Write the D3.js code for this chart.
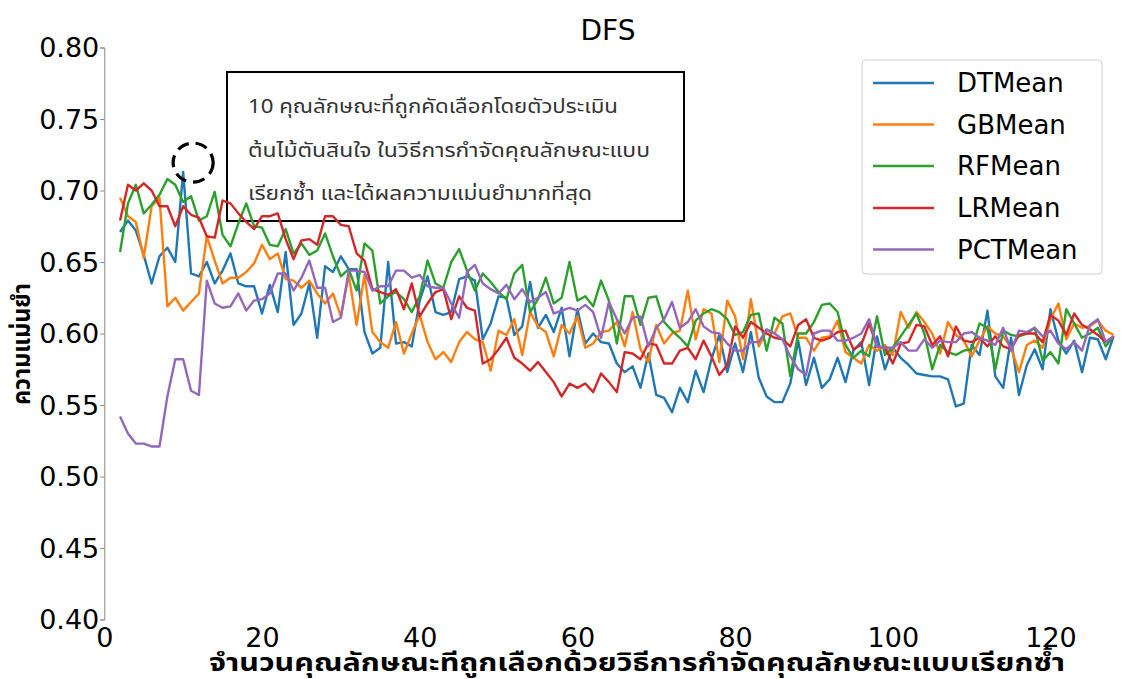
<!DOCTYPE html>
<html><head><meta charset="utf-8">
<script src="https://cdn.jsdelivr.net/npm/d3@7"></script>
<style>
html,body{margin:0;padding:0;background:#fff;}
text{font-family:"DejaVu Sans",sans-serif;}
.thai{font-family:"Noto Sans Thai","Tahoma","Noto Sans","DejaVu Sans",sans-serif;}
</style></head>
<body><svg id="c" width="1124" height="679"></svg>
<script>
const xStart = 2;
const seriesNames = ["DTMean","GBMean","RFMean","LRMean","PCTMean"];
const colors = ["#1f77b4","#ff7f0e","#2ca02c","#d62728","#9467bd"];
const xTicks = [0,20,40,60,80,100,120];
const yTicks = [0.40,0.45,0.50,0.55,0.60,0.65,0.70,0.75,0.80];

const DTMean = [0.671,0.679,0.672,0.655,0.635,0.654,0.660,0.650,0.713,0.642,0.640,0.650,0.635,0.644,0.656,0.635,0.633,0.633,0.614,0.634,0.615,0.657,0.606,0.614,0.635,
0.597,0.647,0.643,0.654,0.645,0.645,0.601,0.586,0.590,0.650,0.593,0.594,0.591,0.623,0.640,0.615,
0.613,0.615,0.638,0.640,0.637,0.596,0.607,0.626,0.625,0.599,0.605,0.636,0.604,0.613,0.601,0.618,0.584,0.617,0.593,0.600,0.594,0.593,0.579,0.573,0.577,0.562,0.586,0.557,0.555,0.545,0.562,0.552,0.574,0.559,0.582,0.599,0.573,0.593,0.573,0.601,0.569,0.556,0.552,
0.552,0.565,0.595,0.564,0.583,0.562,0.568,0.583,0.566,0.588,0.594,0.564,0.598,0.575,0.590,0.583,0.578,0.572,0.571,0.570,0.570,0.568,0.549,0.551,0.592,0.585,0.616,0.570,0.562,0.597,0.557,0.578,0.589,0.575,0.617,0.595,0.586,0.595,0.573,0.597,0.596,0.582,0.598];

const GBMean = [0.695,0.682,0.678,0.653,0.689,0.695,0.619,0.625,0.616,0.622,0.628,0.668,0.651,0.635,0.639,0.639,0.643,0.649,0.662,0.652,0.656,0.638,0.637,0.632,0.637,
0.628,0.621,0.628,0.612,0.641,0.606,0.641,0.601,0.594,0.590,0.608,0.586,0.600,0.613,0.594,0.582,
0.587,0.580,0.594,0.601,0.596,0.594,0.574,0.602,0.599,0.610,0.585,0.615,0.605,0.601,0.584,0.606,0.600,0.612,0.590,0.593,0.601,0.602,0.608,0.591,0.615,0.589,0.580,0.606,0.593,0.600,0.602,0.630,0.596,0.617,0.614,0.580,0.623,0.612,0.582,0.624,0.591,0.602,0.600,
0.612,0.614,0.597,0.597,0.588,0.597,0.598,0.609,0.587,0.583,0.579,0.592,0.588,0.592,0.585,0.615,0.604,0.615,0.608,0.600,0.586,0.608,0.599,0.595,0.584,0.595,0.605,0.600,0.598,0.590,0.573,0.592,0.595,0.590,0.610,0.621,0.596,0.607,0.604,0.605,0.609,0.602,0.599];

const RFMean = [0.657,0.691,0.704,0.684,0.690,0.697,0.708,0.704,0.692,0.696,0.679,0.682,0.699,0.669,0.661,0.677,0.691,0.675,0.674,0.662,0.661,0.673,0.656,0.663,0.655,
0.658,0.670,0.654,0.640,0.645,0.630,0.663,0.658,0.621,0.626,0.629,0.624,0.615,0.626,0.651,0.635,
0.632,0.650,0.659,0.644,0.630,0.642,0.636,0.629,0.624,0.642,0.648,0.615,0.624,0.639,0.621,0.625,0.650,0.623,0.626,0.619,0.637,0.623,0.593,0.626,0.626,0.606,0.625,0.626,0.608,0.602,0.597,0.591,0.609,0.614,0.617,0.615,0.610,0.599,0.601,0.613,0.614,0.588,0.611,
0.607,0.570,0.600,0.600,0.608,0.620,0.621,0.615,0.592,0.583,0.588,0.584,0.612,0.585,0.590,0.598,0.606,0.614,0.600,0.575,0.592,0.587,0.585,0.588,0.589,0.607,0.604,0.575,0.602,0.599,0.598,0.600,0.604,0.581,0.587,0.579,0.617,0.607,0.597,0.600,0.604,0.591,0.598];

const LRMean = [0.679,0.704,0.700,0.705,0.700,0.689,0.689,0.675,0.689,0.683,0.681,0.668,0.667,0.693,0.691,0.684,0.678,0.673,0.682,0.682,0.684,0.666,0.652,0.665,0.666,
0.662,0.682,0.682,0.676,0.675,0.656,0.651,0.631,0.629,0.627,0.631,0.617,0.635,0.612,0.621,0.629,
0.631,0.610,0.626,0.618,0.616,0.579,0.582,0.589,0.597,0.583,0.579,0.574,0.580,0.573,0.566,0.556,0.565,0.562,0.565,0.559,0.572,0.566,0.559,0.587,0.586,0.582,0.593,0.592,0.579,0.579,0.588,0.590,0.582,0.595,0.584,0.571,0.578,0.605,0.597,0.608,0.604,0.600,0.597,
0.596,0.591,0.606,0.610,0.597,0.595,0.597,0.601,0.602,0.589,0.592,0.607,0.591,0.590,0.579,0.593,0.594,0.606,0.605,0.592,0.598,0.584,0.605,0.595,0.594,0.597,0.591,0.598,0.591,0.589,0.599,0.600,0.600,0.594,0.613,0.609,0.599,0.614,0.606,0.603,0.599,0.594,0.598];

const PCTMean = [0.542,0.530,0.523,0.523,0.521,0.521,0.556,0.582,0.582,0.560,0.557,0.637,0.621,0.618,0.619,0.628,0.616,0.623,0.624,0.628,
0.642,0.642,0.630,0.639,0.651,0.632,0.632,0.608,0.611,0.644,0.644,0.643,0.630,0.633,0.633,0.644,0.644,0.639,0.641,0.633,0.632,
0.632,0.621,0.611,0.643,0.648,0.635,0.631,0.628,0.634,0.624,0.631,0.622,0.625,0.629,0.614,0.616,0.618,0.616,0.620,0.615,0.597,0.622,0.610,0.600,0.611,0.612,0.591,0.604,0.610,0.622,0.604,0.608,0.617,0.605,0.601,0.600,0.593,0.588,0.588,0.594,0.594,0.603,0.600,
0.596,0.584,0.575,0.571,0.600,0.602,0.602,0.595,0.595,0.597,0.600,0.610,0.591,0.590,0.590,0.594,0.588,0.588,0.596,0.590,0.595,0.594,0.594,0.600,0.601,0.597,0.595,0.592,0.604,0.588,0.602,0.601,0.604,0.598,0.602,0.593,0.589,0.594,0.588,0.606,0.610,0.594,0.598];

const allSeries = [DTMean,GBMean,RFMean,LRMean,PCTMean];
const titleText = "DFS";
const xLabel = "จำนวนคุณลักษณะทีถูกเลือกด้วยวิธีการกำจัดคุณลักษณะแบบเรียกซ้ำ";
const yLabel = "ความแม่นยำ";
const noteLines = ["10 คุณลักษณะที่ถูกคัดเลือกโดยตัวประเมิน","ต้นไม้ตันสินใจ ในวิธีการกำจัดคุณลักษณะแบบ","เรียกซ้ำ และได้ผลความแม่นยำมากที่สุด"];
const markX = 10, markY = 0.7195;

const svg = d3.select("#c");
svg.append("rect").attr("width",1124).attr("height",679).attr("fill","#fff");

const x = d3.scaleLinear().domain([0,120]).range([104.3,1050.5]);
const y = d3.scaleLinear().domain([0.40,0.80]).range([619.5,47.5]);

// annotation box (behind lines)
const bx = 227, by = 72, bw = 457, bh = 149;
svg.append("rect").attr("x",bx).attr("y",by).attr("width",bw).attr("height",bh)
  .attr("fill","#fff").attr("stroke","#000").attr("stroke-width",2);
const noteW = [370,402,344];
const noteY = [113,157,200];
noteLines.forEach((t,i)=>{
  svg.append("text").attr("class","thai").attr("x",248).attr("y",noteY[i])
    .attr("font-size",19).attr("fill","#333").attr("textLength",noteW[i])
    .attr("lengthAdjust","spacingAndGlyphs").text(t);
});

// y axis
const yAxis = d3.axisLeft(y).tickValues(yTicks).tickFormat(d3.format(".2f")).tickSize(4).tickPadding(1);
const gy = svg.append("g").attr("transform","translate(104.3,0)").call(yAxis);
gy.select(".domain").attr("stroke","#888").attr("stroke-width",1);
gy.selectAll(".tick line").attr("stroke","#888");
gy.selectAll("text").attr("font-size",27).attr("fill","#000").attr("font-family","DejaVu Sans").attr("dy","0.35em");

// x axis (no spine, no tick marks)
const xAxis = d3.axisBottom(x).tickValues(xTicks).tickFormat(d3.format("d")).tickSize(0).tickPadding(8);
const gx = svg.append("g").attr("transform","translate(0,619.5)").call(xAxis);
gx.select(".domain").remove();
gx.selectAll("text").attr("font-size",27).attr("fill","#000").attr("font-family","DejaVu Sans");

// lines
const line = d3.line().x((d,i)=>x(xStart+i)).y(d=>y(d));
allSeries.forEach((s,k)=>{
  svg.append("path").datum(s).attr("d",line).attr("fill","none")
    .attr("stroke",colors[k]).attr("stroke-width",2.4).attr("stroke-linejoin","round");
});

// dashed circle marker
svg.append("ellipse").attr("cx",x(markX)+10).attr("cy",y(markY)).attr("rx",20).attr("ry",19.5)
  .attr("fill","none").attr("stroke","#000").attr("stroke-width",3.2).attr("stroke-dasharray","12,7");

// title
svg.append("text").attr("x",608).attr("y",40).attr("text-anchor","middle")
  .attr("font-size",28).attr("fill","#000").text(titleText);

// axis labels
svg.append("text").attr("class","thai").attr("x",637).attr("y",671).attr("text-anchor","middle")
  .attr("font-size",25).attr("font-weight","bold").attr("fill","#000")
  .attr("textLength",856).attr("lengthAdjust","spacingAndGlyphs").text(xLabel);
svg.append("text").attr("class","thai").attr("transform","translate(30,344) rotate(-90)")
  .attr("text-anchor","middle").attr("font-size",24).attr("font-weight","bold").attr("fill","#000")
  .attr("textLength",122).attr("lengthAdjust","spacingAndGlyphs").text(yLabel);

// legend
const lg = svg.append("g");
lg.append("rect").attr("x",862).attr("y",60).attr("width",240).attr("height",214).attr("rx",4)
  .attr("fill","#fff").attr("fill-opacity",0.8).attr("stroke","#d0d0d0").attr("stroke-width",1);
const rowY = [83,124.5,166,208,249.5];
seriesNames.forEach((n,k)=>{
  lg.append("line").attr("x1",873).attr("x2",934).attr("y1",rowY[k]).attr("y2",rowY[k])
    .attr("stroke",colors[k]).attr("stroke-width",2.6);
  lg.append("text").attr("x",957).attr("y",rowY[k]).attr("dy","0.35em")
    .attr("font-size",26).attr("fill","#000").text(n);
});
</script></body></html>
